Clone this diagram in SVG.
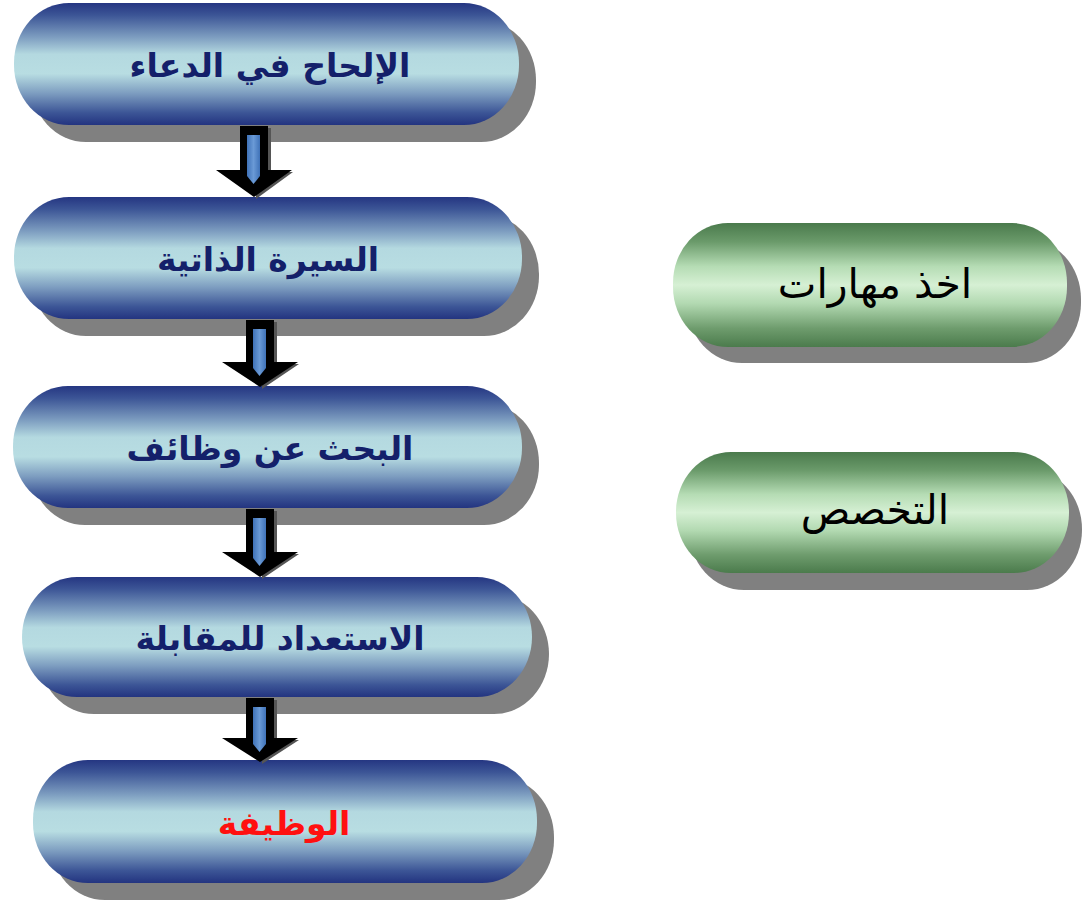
<svg xmlns="http://www.w3.org/2000/svg" width="1082" height="901" viewBox="0 0 1082 901">
<defs>
  <linearGradient id="gBlue" x1="0" y1="0" x2="0" y2="1">
    <stop offset="0" stop-color="#253682"/>
    <stop offset="0.1" stop-color="#3c5596"/>
    <stop offset="0.28" stop-color="#7d9dc0"/>
    <stop offset="0.42" stop-color="#b4d9e0"/>
    <stop offset="0.58" stop-color="#b8dde2"/>
    <stop offset="0.74" stop-color="#7d9dc0"/>
    <stop offset="0.9" stop-color="#3c5596"/>
    <stop offset="1" stop-color="#233480"/>
  </linearGradient>
  <linearGradient id="gGreen" x1="0" y1="0" x2="0" y2="1">
    <stop offset="0" stop-color="#4a7a4c"/>
    <stop offset="0.15" stop-color="#6a9a6a"/>
    <stop offset="0.35" stop-color="#b5dcb4"/>
    <stop offset="0.5" stop-color="#d6f0d4"/>
    <stop offset="0.65" stop-color="#b2d9b1"/>
    <stop offset="0.85" stop-color="#6e9c6d"/>
    <stop offset="1" stop-color="#4b7b4c"/>
  </linearGradient>
  <linearGradient id="gArrow" x1="0" y1="0" x2="1" y2="0">
    <stop offset="0" stop-color="#3f72b8"/>
    <stop offset="0.5" stop-color="#6a9ad6"/>
    <stop offset="1" stop-color="#3f72b8"/>
  </linearGradient>
</defs>
<style>
  .shadow { fill: #808080; }
  .blue { fill: url(#gBlue); }
  .green { fill: url(#gGreen); }
  .tb { font-family: "DejaVu Sans", "Noto Sans", sans-serif; font-weight: bold; font-size: 33px; fill: #14206a; }
  .tr { fill: #ff1010; }
  .tg { font-family: "DejaVu Sans", "Noto Sans", sans-serif; font-size: 41px; fill: #000; }
  .arrowBody { fill: #000; }
  .arrowShade { fill: #555; }
  .arrowInner { fill: url(#gArrow); }
</style>
<rect width="1082" height="901" fill="#fff"/>

<g id="node1">
  <rect class="shadow" x="31" y="20" width="505" height="122" rx="55" ry="60"/>
  <rect class="blue" x="14" y="3" width="505" height="122" rx="55" ry="60"/>
  <text class="tb" x="270" y="77" text-anchor="middle" direction="rtl">الإلحاح في الدعاء</text>
</g>
<g id="node2">
  <rect class="shadow" x="31" y="214" width="508" height="122" rx="55" ry="60"/>
  <rect class="blue" x="14" y="197" width="508" height="122" rx="55" ry="60"/>
  <text class="tb" x="268" y="271" text-anchor="middle" direction="rtl">السيرة الذاتية</text>
</g>
<g id="node3">
  <rect class="shadow" x="30" y="403" width="509" height="122" rx="55" ry="60"/>
  <rect class="blue" x="13" y="386" width="509" height="122" rx="55" ry="60"/>
  <text class="tb" x="270" y="460" text-anchor="middle" direction="rtl">البحث عن وظائف</text>
</g>
<g id="node4">
  <rect class="shadow" x="39" y="594" width="510" height="120" rx="55" ry="60"/>
  <rect class="blue" x="22" y="577" width="510" height="120" rx="55" ry="60"/>
  <text class="tb" x="280" y="650" text-anchor="middle" direction="rtl">الاستعداد للمقابلة</text>
</g>
<g id="node5">
  <rect class="shadow" x="50" y="777" width="504" height="123" rx="55" ry="60"/>
  <rect class="blue" x="33" y="760" width="504" height="123" rx="55" ry="60"/>
  <text class="tb tr" x="284" y="835" text-anchor="middle" direction="rtl">الوظيفة</text>
</g>
<g id="node6">
  <rect class="shadow" x="687" y="239" width="394" height="124" rx="55" ry="60"/>
  <rect class="green" x="673" y="223" width="394" height="124" rx="55" ry="60"/>
  <text class="tg" x="875" y="298" text-anchor="middle" direction="rtl">اخذ مهارات</text>
</g>
<g id="node7">
  <rect class="shadow" x="689" y="469" width="393" height="121" rx="55" ry="60"/>
  <rect class="green" x="676" y="452" width="393" height="121" rx="55" ry="60"/>
  <text class="tg" x="875" y="524" text-anchor="middle" direction="rtl">التخصص</text>
</g>

<g id="connectors">
  <g id="arrow1">
    <polygon class="arrowShade" points="245,128 271,128 271,172 293,172 256,199 256,172"/>
    <polygon class="arrowBody" points="240,126 268,126 268,170 292,170 254,197 216,170 240,170"/>
    <polygon class="arrowInner" points="247,135 260,135 260,176 253.5,184 247,176"/>
  </g>
  <g id="arrow2">
    <polygon class="arrowShade" points="251,322 277,322 277,364 299,364 262,389 262,364"/>
    <polygon class="arrowBody" points="246,320 274,320 274,362 298,362 260,387 222,362 246,362"/>
    <polygon class="arrowInner" points="253,329 266,329 266,368 259.5,376 253,368"/>
  </g>
  <g id="arrow3">
    <polygon class="arrowShade" points="251,511 277,511 277,554 299,554 262,579 262,554"/>
    <polygon class="arrowBody" points="246,509 274,509 274,552 298,552 260,577 222,552 246,552"/>
    <polygon class="arrowInner" points="253,518 266,518 266,558 259.5,566 253,558"/>
  </g>
  <g id="arrow4">
    <polygon class="arrowShade" points="251,700 277,700 277,740 299,740 262,764 262,740"/>
    <polygon class="arrowBody" points="246,698 274,698 274,738 298,738 260,762 222,738 246,738"/>
    <polygon class="arrowInner" points="253,707 266,707 266,744 259.5,752 253,744"/>
  </g>
</g>
</svg>
